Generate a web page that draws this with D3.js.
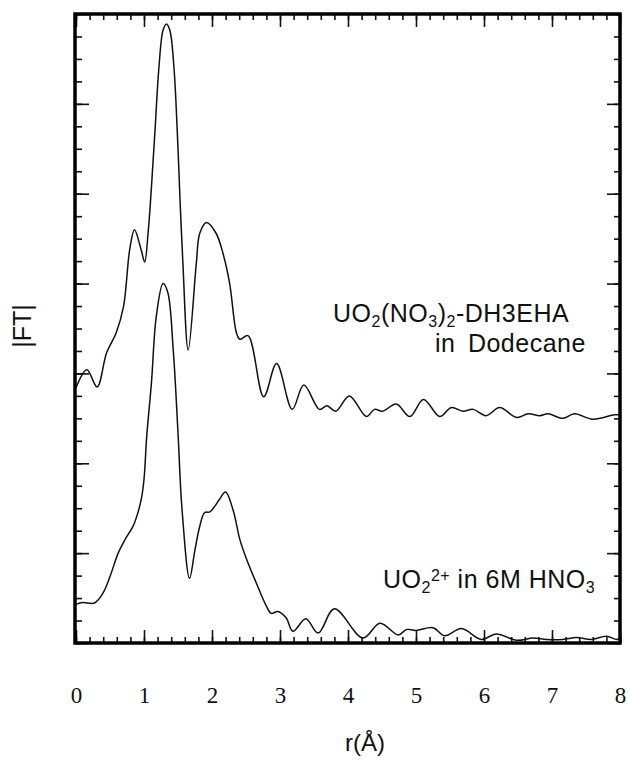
<!DOCTYPE html>
<html>
<head>
<meta charset="utf-8">
<script src="https://cdn.jsdelivr.net/npm/d3@7"></script>
<style>
  html, body { margin:0; padding:0; background:#fff; }
  svg text { fill:#111; }
</style>
</head>
<body>
<div id="chart"></div>
<script>
/* EXAFS Fourier transform magnitudes, two uranyl samples */

// dodecane sample (upper trace)
const dodecR = [0,0.16,0.31,0.45,0.59,0.7,0.79,0.86,0.96,1.01,1.06,1.11,1.16,1.22,1.28,1.33,1.38,1.44,1.49,1.53,1.57,1.65,1.77,1.82,1.92,2.06,2.16,2.26,2.36,2.41,2.53,2.76,2.95,3.18,3.35,3.58,3.69,3.82,4.02,4.27,4.39,4.51,4.71,4.91,5.11,5.35,5.52,5.69,5.84,6.03,6.23,6.48,6.65,6.82,6.94,7.16,7.33,7.6,7.92,8];
const dodecFT = [2.84,3.04,2.85,3.23,3.45,3.75,4.38,4.6,4.37,4.24,4.56,5.08,5.68,6.41,6.82,6.89,6.82,6.41,5.68,4.93,4.26,3.26,4.23,4.56,4.68,4.56,4.34,4.0,3.45,3.38,3.42,2.74,3.11,2.6,2.87,2.6,2.64,2.58,2.75,2.52,2.6,2.58,2.66,2.52,2.71,2.52,2.62,2.58,2.6,2.53,2.62,2.51,2.55,2.53,2.55,2.5,2.55,2.49,2.54,2.54];

// aqueous nitric acid sample (lower trace)
const aqR = [0,0.1,0.27,0.4,0.5,0.62,0.72,0.84,0.91,0.96,1.0,1.04,1.11,1.18,1.28,1.35,1.43,1.5,1.56,1.67,1.75,1.82,1.89,1.97,2.04,2.11,2.2,2.31,2.41,2.51,2.65,2.8,2.87,2.97,3.09,3.19,3.38,3.56,3.8,4.22,4.47,4.74,4.86,5.0,5.25,5.42,5.67,5.96,6.18,6.48,6.72,6.92,7.16,7.36,7.58,7.8,7.95,8];
const aqFT = [0.43,0.45,0.445,0.56,0.74,1.0,1.15,1.3,1.45,1.6,1.82,2.3,2.9,3.63,4.0,3.9,3.26,2.34,1.48,0.72,1.04,1.3,1.45,1.46,1.52,1.6,1.68,1.48,1.15,0.93,0.67,0.41,0.33,0.35,0.28,0.13,0.27,0.11,0.38,0.055,0.22,0.09,0.15,0.14,0.17,0.08,0.16,0.04,0.1,0.03,0.055,0.04,0.04,0.06,0.04,0.075,0.04,0.05];

const xTickLabels = [0,1,2,3,4,5,6,7,8];

const W = 629, H = 768,
      L = 76, R = 620, T = 14, B = 643;

const svg = d3.select("#chart").append("svg")
  .attr("width", W).attr("height", H);

const x = d3.scaleLinear().domain([0, 8]).range([L, R]);
const y = d3.scaleLinear().domain([0, 7]).range([B, T]);

const minorX = d3.range(0, 8.001, 0.2).map(v => +v.toFixed(1));
const minorY = d3.range(0, 7.001, 0.25);

/* ---------- inward ticks on all four sides ---------- */
function tickAxis(axisFn, scale, vals, size, tx, ty){
  const g = svg.append("g").attr("transform", `translate(${tx},${ty})`)
    .call(axisFn(scale).tickValues(vals).tickSize(size).tickFormat(""));
  g.select(".domain").remove();
  g.selectAll("line").attr("stroke", "#111").attr("stroke-width", 1.6);
  return g;
}
tickAxis(d3.axisBottom, x, minorX, -6, 0, B);
tickAxis(d3.axisBottom, x, xTickLabels, -13, 0, B);
tickAxis(d3.axisTop, x, minorX, -6, 0, T);
tickAxis(d3.axisTop, x, xTickLabels, -13, 0, T);
tickAxis(d3.axisLeft, y, minorY, -6, L, 0);
tickAxis(d3.axisLeft, y, d3.range(0, 8), -13, L, 0);
tickAxis(d3.axisRight, y, minorY, -6, R, 0);
tickAxis(d3.axisRight, y, d3.range(0, 8), -13, R, 0);

/* ---------- x tick labels ---------- */
const xl = svg.append("g").attr("transform", `translate(0,${B})`)
  .call(d3.axisBottom(x).tickValues(xTickLabels).tickSize(0).tickPadding(44)
        .tickFormat(d3.format("d")));
xl.select(".domain").remove();
xl.selectAll("text")
  .style("font-family", "'Liberation Serif', 'Times New Roman', serif")
  .style("font-size", "23px").attr("fill", "#111");

/* ---------- curves ---------- */
const line = d3.line().x(d => x(d[0])).y(d => y(d[1])).curve(d3.curveCatmullRom.alpha(0.5));
[[dodecR, dodecFT], [aqR, aqFT]].forEach(([rs, fs]) => {
  svg.append("path")
    .datum(rs.map((r, i) => [r, fs[i]]))
    .attr("d", line)
    .attr("fill", "none").attr("stroke", "#111").attr("stroke-width", 1.5);
});

/* ---------- frame ---------- */
svg.append("rect").attr("x", L - 1).attr("y", T).attr("width", R - L + 1).attr("height", B - T)
  .attr("fill", "none").attr("stroke", "#000").attr("stroke-width", 3.5);

/* ---------- labels ---------- */
const sans = "'Liberation Sans', Arial, Helvetica, sans-serif";

svg.append("text")
  .attr("transform", `translate(31,326) rotate(-90)`)
  .attr("text-anchor", "middle")
  .style("font-family", sans).style("font-size", "25px")
  .text("|FT|");

svg.append("text")
  .attr("x", 365).attr("y", 751).attr("text-anchor", "middle")
  .style("font-family", sans).style("font-size", "24px")
  .text("r(Å)");

function sub(t, s){ t.append("tspan").attr("baseline-shift", "-30%").style("font-size", "16px").text(s); }

const annot = { "font-family": sans, "font-size": "25px", "letter-spacing": "0.5px" };
function styled(sel){ Object.entries(annot).forEach(([k, v]) => sel.style(k, v)); return sel; }

const t1 = styled(svg.append("text").attr("x", 333).attr("y", 322));
t1.append("tspan").text("UO"); sub(t1, "2");
t1.append("tspan").text("(NO"); sub(t1, "3");
t1.append("tspan").text(")"); sub(t1, "2");
t1.append("tspan").text("-DH3EHA");

styled(svg.append("text").attr("x", 435).attr("y", 352))
  .style("word-spacing", "5px")
  .text("in Dodecane");

const t2 = styled(svg.append("text").attr("x", 383).attr("y", 588));
t2.append("tspan").text("UO"); sub(t2, "2");
t2.append("tspan").attr("baseline-shift", "45%").style("font-size", "16px").text("2+");
t2.append("tspan").text(" in 6M HNO"); sub(t2, "3");
</script>
</body>
</html>
